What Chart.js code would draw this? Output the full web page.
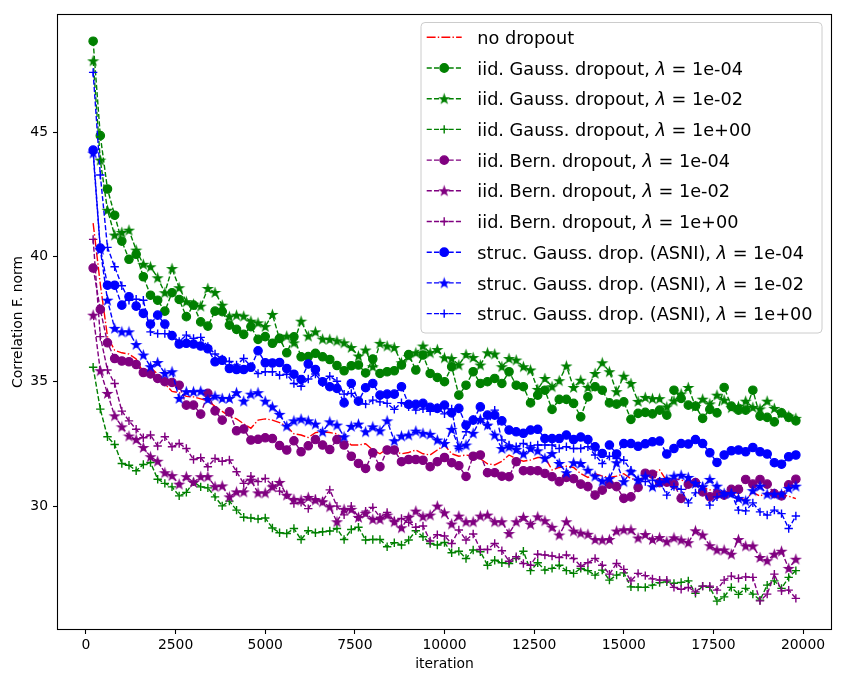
<!DOCTYPE html>
<html>
<head>
<meta charset="utf-8">
<script src="https://cdn.jsdelivr.net/npm/chart.js@4.4.0/dist/chart.umd.min.js"></script>
<style>
  html, body { margin: 0; padding: 0; background: #fff; }
  canvas { display: block; }
</style>
</head>
<body>
<canvas id="chart" width="845" height="682"></canvas>
<script>
// iteration at which each measurement was taken
const iterations = [
  200, 400, 600, 800, 1000, 1200, 1400, 1600, 1800, 2000,
  2200, 2400, 2600, 2800, 3000, 3200, 3400, 3600, 3800, 4000,
  4200, 4400, 4600, 4800, 5000, 5200, 5400, 5600, 5800, 6000,
  6200, 6400, 6600, 6800, 7000, 7200, 7400, 7600, 7800, 8000,
  8200, 8400, 8600, 8800, 9000, 9200, 9400, 9600, 9800, 10000,
  10200, 10400, 10600, 10800, 11000, 11200, 11400, 11600, 11800, 12000,
  12200, 12400, 12600, 12800, 13000, 13200, 13400, 13600, 13800, 14000,
  14200, 14400, 14600, 14800, 15000, 15200, 15400, 15600, 15800, 16000,
  16200, 16400, 16600, 16800, 17000, 17200, 17400, 17600, 17800, 18000,
  18200, 18400, 18600, 18800, 19000, 19200, 19400, 19600, 19800
];

const noDropout = [
  41.35, 38.9, 36.8, 36.25, 36.15, 36.1, 35.9, 35.35, 35.55, 35.3,
  34.9, 34.6, 34.55, 34.4, 34.38, 34.3, 34.22, 34.0, 33.8, 33.6,
  33.5, 33.3, 33.12, 33.45, 33.5, 33.45, 33.35, 33.2, 32.9, 32.85,
  32.75, 32.95, 32.98, 32.95, 32.9, 32.7, 32.45, 32.45, 32.5, 32.25,
  32.1, 32.3, 32.2, 32.1, 32.15, 32.25, 32.1, 32.05, 32.25, 32.45,
  32.1, 32.0, 32.05, 32.0, 31.9, 31.7, 31.65, 31.8, 32.05, 31.9,
  31.8, 31.85, 31.95, 31.95, 31.45, 31.55, 31.6, 31.55, 31.3, 31.15,
  31.3, 31.2, 31.15, 31.2, 31.3, 31.1, 31.05, 31.15, 31.25, 31.45,
  31.0, 31.1, 31.05, 30.95, 30.85, 30.75, 30.65, 30.65, 30.5, 30.55,
  30.35, 30.25, 30.55, 30.4, 30.55, 30.5, 30.45, 30.4, 30.3
];

const gaussL4 = [
  48.65, 44.86, 42.72, 41.67, 40.63, 39.9, 40.1, 39.2, 38.46, 38.26,
  37.82, 38.56, 38.29, 37.6, 38.06, 37.39, 37.22, 37.82, 37.8, 37.26,
  37.09, 36.89, 37.2, 36.69, 36.8, 36.53, 36.73, 36.15, 36.79, 35.99,
  36.0, 36.13, 35.99, 35.88, 35.64, 35.43, 35.63, 35.66, 35.34, 35.9,
  35.32, 35.39, 35.43, 35.66, 36.08, 35.46, 36.06, 35.32, 35.16, 34.99,
  35.59, 34.45, 34.85, 35.39, 34.92, 34.99, 35.12, 34.92, 35.39, 34.85,
  34.79, 34.14, 34.45, 34.65, 33.88, 34.28, 34.28, 34.12, 33.58, 34.38,
  34.79, 34.65, 34.14, 34.09, 34.18, 33.48, 33.72, 33.76, 33.7, 33.85,
  33.65, 34.65, 34.32, 34.05, 34.01, 33.52, 33.88, 33.74, 34.76, 34.01,
  33.85, 33.85, 34.65, 33.61, 33.56, 33.38, 33.74, 33.56, 33.42
];

const gaussL2 = [
  47.86, 43.88, 41.87, 40.87, 40.98, 41.07, 40.27, 39.7, 39.6, 39.16,
  38.56, 39.53, 38.76, 38.2, 38.1, 38.02, 38.73, 38.57, 38.06, 37.6,
  37.66, 37.62, 37.42, 37.35, 37.2, 37.69, 36.7, 36.82, 36.55, 37.42,
  36.82, 36.99, 36.7, 36.69, 36.63, 36.55, 36.36, 36.02, 36.26, 35.59,
  36.53, 36.42, 36.36, 35.75, 36.0, 36.15, 36.42, 36.15, 36.28, 35.95,
  35.92, 35.66, 36.08, 35.96, 35.66, 36.15, 36.1, 35.59, 35.92, 35.86,
  35.59, 35.46, 34.68, 35.12, 34.79, 35.03, 35.62, 34.76, 35.05, 34.76,
  35.32, 35.75, 35.39, 34.59, 35.21, 34.92, 34.2, 34.36, 34.31, 34.31,
  33.98, 34.22, 34.5, 34.76, 34.0, 34.29, 34.1, 34.45, 34.25, 33.95,
  34.0, 34.21, 33.96, 33.9, 34.21, 33.92, 33.72, 33.61, 33.52
];

const gaussL0 = [
  35.57, 33.89, 32.78, 32.47, 31.71, 31.64, 31.42, 31.67, 31.75, 31.08,
  30.91, 30.77, 30.41, 30.55, 30.97, 30.77, 30.73, 30.37, 30.01, 30.2,
  29.84, 29.55, 29.52, 29.48, 29.52, 29.12, 28.93, 28.9, 29.1, 28.66,
  29.01, 28.93, 28.97, 29.0, 29.1, 28.66, 29.06, 29.15, 28.64, 28.66,
  28.66, 28.37, 28.53, 28.44, 28.64, 29.01, 28.77, 28.5, 28.44, 28.54,
  28.13, 28.19, 27.9, 28.24, 28.17, 27.63, 27.83, 27.73, 27.7, 27.9,
  28.19, 27.41, 27.73, 27.43, 27.5, 27.63, 27.41, 27.3, 27.5, 27.41,
  27.23, 27.43, 27.03, 27.23, 27.32, 26.76, 26.75, 26.74, 26.83, 26.93,
  26.96, 26.9, 26.94, 27.0, 26.5, 26.79, 26.74, 26.19, 26.36, 26.74,
  26.46, 26.7, 26.47, 26.23, 26.83, 27.0, 26.7, 27.14, 27.41
];

const bernL4 = [
  39.55, 37.89, 36.55, 35.92, 35.82, 35.79, 35.68, 35.36, 35.3, 35.12,
  34.99, 34.96, 34.85, 34.05, 34.05, 33.69, 34.52, 33.82, 33.45, 33.78,
  33.02, 33.09, 32.65, 32.68, 32.74, 32.71, 32.43, 32.25, 32.62, 32.18,
  32.42, 32.67, 32.45, 32.27, 32.67, 32.45, 32.0, 31.71, 31.51, 32.14,
  31.58, 32.25, 32.25, 31.78, 31.87, 31.87, 31.84, 31.58, 31.78, 31.95,
  31.74, 31.62, 31.19, 32.0, 32.05, 31.34, 31.34, 31.2, 31.18, 31.78,
  31.42, 31.42, 31.42, 31.31, 31.18, 30.98, 31.15, 31.1, 30.88, 30.78,
  30.44, 30.64, 30.88, 30.78, 30.31, 30.37, 30.75, 31.32, 31.28, 30.94,
  30.96, 30.88, 30.31, 30.88, 30.94, 30.57, 30.37, 30.48, 30.44, 30.67,
  30.67, 31.07, 30.88, 31.07, 30.88, 30.5, 30.41, 30.85, 31.08
];

const bernL2 = [
  37.66, 35.43, 34.52, 33.62, 33.18, 32.81, 32.67, 32.35, 31.98, 31.8,
  31.34, 31.22, 30.88, 31.18, 30.95, 31.18, 31.18, 30.78, 30.81, 30.37,
  30.57, 30.57, 31.04, 30.53, 30.53, 30.77, 30.95, 30.44, 30.27, 30.24,
  30.35, 30.24, 30.17, 29.97, 29.37, 29.87, 29.87, 29.55, 29.71, 29.47,
  29.47, 29.64, 29.37, 29.13, 29.55, 29.8, 29.58, 29.64, 30.0, 29.73,
  29.28, 29.6, 29.37, 29.37, 29.6, 29.64, 29.37, 29.37, 28.9, 29.37,
  29.55, 29.27, 29.57, 29.41, 29.15, 28.84, 29.37, 29.0, 28.92, 28.87,
  28.66, 28.64, 28.66, 29.0, 29.05, 29.05, 28.72, 28.86, 28.66, 28.74,
  28.57, 28.73, 28.64, 28.53, 29.01, 28.84, 28.41, 28.24, 28.24, 28.07,
  28.66, 28.4, 28.4, 27.94, 27.81, 28.07, 28.19, 27.5, 27.87
];

const bernL0 = [
  40.7, 36.8, 35.46, 34.92, 33.81, 33.42, 33.08, 32.74, 32.85, 32.41,
  32.78, 32.38, 32.51, 32.31, 31.87, 31.94, 31.58, 31.91, 31.8, 31.85,
  31.38, 30.91, 31.2, 30.98, 31.11, 30.84, 30.6, 30.45, 30.1, 30.15,
  29.9, 30.3, 30.2, 30.65, 30.0, 29.65, 30.0, 29.55, 29.8, 29.95,
  29.55, 29.75, 29.4, 29.5, 29.35, 29.15, 29.2, 28.6, 28.85, 28.8,
  28.5, 29.04, 28.64, 28.88, 28.26, 28.26, 28.5, 28.21, 27.79, 27.97,
  27.7, 27.63, 28.07, 28.04, 28.0, 27.94, 28.04, 27.9, 27.59, 27.73,
  27.9, 27.63, 27.27, 27.7, 27.46, 27.0, 27.3, 27.21, 27.08, 27.03,
  27.03, 26.74, 26.66, 26.74, 26.56, 26.79, 26.79, 26.63, 27.03, 27.19,
  27.1, 27.16, 27.14, 26.2, 26.47, 27.27, 26.6, 26.63, 26.3
];

const asniL4 = [
  44.28, 40.35, 38.86, 38.86, 38.06, 38.4, 38.02, 37.73, 37.3, 37.66,
  37.3, 36.84, 36.5, 36.53, 36.5, 36.42, 36.31, 35.79, 35.85, 35.52,
  35.48, 35.48, 35.57, 36.23, 35.75, 35.74, 35.76, 35.52, 35.29, 35.08,
  35.7, 35.48, 34.99, 34.79, 34.72, 34.14, 34.92, 34.21, 34.75, 34.92,
  34.45, 34.49, 34.49, 34.79, 34.08, 34.08, 34.12, 33.96, 33.92, 34.05,
  33.74, 33.92, 33.25, 33.45, 33.98, 33.65, 33.65, 33.42, 33.05, 32.98,
  32.92, 33.05, 33.08, 32.71, 32.71, 32.71, 32.85, 32.67, 32.77, 32.67,
  32.38, 32.11, 32.45, 32.09, 32.51, 32.51, 32.4, 32.5, 32.58, 32.61,
  32.09, 32.31, 32.51, 32.49, 32.67, 32.51, 32.14, 31.75, 32.05, 32.22,
  32.25, 32.18, 32.35, 32.18, 32.09, 31.74, 31.68, 31.98, 32.05
];

const asniL2 = [
  44.16, 40.3, 38.26, 37.13, 36.99, 36.99, 36.48, 36.06, 35.59, 35.76,
  35.32, 35.39, 34.32, 34.59, 34.59, 34.61, 34.28, 34.41, 34.32, 34.32,
  34.55, 34.21, 34.49, 34.55, 34.21, 33.98, 33.68, 33.21, 33.42, 33.49,
  33.42, 33.29, 32.98, 33.38, 33.25, 32.78, 33.2, 33.29, 32.98, 33.18,
  33.02, 33.42, 32.62, 32.81, 32.85, 33.01, 32.92, 32.88, 32.65, 32.51,
  33.08, 32.38, 32.45, 32.92, 33.48, 33.25, 32.85, 32.31, 32.38, 32.27,
  32.09, 32.31, 32.22, 31.91, 32.11, 31.71, 31.34, 31.74, 31.71, 31.44,
  31.2, 31.0, 31.1, 31.74, 30.98, 31.38, 31.05, 31.2, 30.78, 30.94,
  31.07, 31.2, 31.24, 31.15, 30.91, 30.78, 31.07, 30.8, 30.51, 30.51,
  30.31, 30.21, 30.62, 30.8, 30.48, 30.48, 30.48, 30.71, 30.8
];

const asniL0 = [
  47.4, 43.28, 40.38, 39.6, 38.84, 38.26, 38.3, 38.26, 36.99, 36.92,
  36.92, 36.85, 36.6, 36.86, 36.73, 36.77, 36.4, 36.1, 35.9, 35.8,
  35.66, 35.92, 35.6, 35.32, 35.39, 35.39, 35.25, 35.29, 34.92, 34.81,
  35.1, 35.3, 34.95, 35.21, 35.01, 34.49, 34.52, 34.18, 34.09, 34.25,
  34.18, 34.12, 33.88, 34.15, 33.98, 33.85, 33.9, 33.8, 33.95, 33.7,
  33.9, 32.31, 32.98, 33.48, 33.45, 33.25, 33.85, 32.65, 32.45, 32.38,
  32.51, 32.41, 32.45, 32.45, 32.45, 32.31, 32.38, 32.31, 32.31, 32.38,
  32.05, 31.71, 32.0, 31.91, 31.84, 31.44, 31.04, 30.98, 31.04, 31.0,
  30.44, 30.78, 30.67, 30.13, 30.53, 30.78, 30.04, 30.37, 30.44, 30.51,
  29.84, 29.81, 30.13, 29.77, 29.64, 29.84, 29.7, 29.1, 29.6
];

const seriesLabels = [
  "no dropout",
  "iid. Gauss. dropout, λ = 1e-04",
  "iid. Gauss. dropout, λ = 1e-02",
  "iid. Gauss. dropout, λ = 1e+00",
  "iid. Bern. dropout, λ = 1e-04",
  "iid. Bern. dropout, λ = 1e-02",
  "iid. Bern. dropout, λ = 1e+00",
  "struc. Gauss. drop. (ASNI), λ = 1e-04",
  "struc. Gauss. drop. (ASNI), λ = 1e-02",
  "struc. Gauss. drop. (ASNI), λ = 1e+00"
];
const seriesValues = [noDropout, gaussL4, gaussL2, gaussL0, bernL4, bernL2, bernL0, asniL4, asniL2, asniL0];
const seriesColors = ["#ff0000", "#008000", "#008000", "#008000", "#800080", "#800080", "#800080", "#0000ff", "#0000ff", "#0000ff"];
const seriesMarkers = ["none", "circle", "star", "plus", "circle", "star", "plus", "circle", "star", "plus"];

const xTicks = [0, 2500, 5000, 7500, 10000, 12500, 15000, 17500, 20000];
const yTicks = [30, 35, 40, 45];

const FONT = "DejaVu Sans";
const DASHED = [5.1, 2.2];
const DASHDOT = [8.9, 2.2, 1.4, 2.2];

// filled five-pointed star like matplotlib's '*' marker
function makeStar(color) {
  const size = 13;
  const c = document.createElement("canvas");
  c.width = size;
  c.height = size;
  const g = c.getContext("2d");
  const ro = 4.3, ri = ro * 0.382;
  g.beginPath();
  for (let k = 0; k < 10; k++) {
    const r = k % 2 === 0 ? ro : ri;
    const a = -Math.PI / 2 + k * Math.PI / 5;
    g.lineTo(size / 2 + r * Math.cos(a), size / 2 + 0.4 + r * Math.sin(a));
  }
  g.closePath();
  g.fillStyle = color;
  g.fill();
  g.strokeStyle = color;
  g.lineWidth = 1.3;
  g.stroke();
  return c;
}

const starCache = {};
function pointStyleFor(marker, color) {
  if (marker === "circle") return "circle";
  if (marker === "plus") return "cross";
  if (marker === "star") {
    if (!starCache[color]) starCache[color] = makeStar(color);
    return starCache[color];
  }
  return false;
}

const datasets = seriesValues.map((vals, k) => {
  const marker = seriesMarkers[k];
  return {
    label: seriesLabels[k],
    data: vals.map((v, i) => ({ x: iterations[i], y: v })),
    borderColor: seriesColors[k],
    backgroundColor: seriesColors[k],
    borderWidth: 1.4,
    borderDash: k === 0 ? DASHDOT : DASHED,
    fill: false,
    tension: 0,
    pointStyle: pointStyleFor(marker, seriesColors[k]),
    pointRadius: marker === "none" ? 0 : 4.2,
    pointBorderWidth: marker === "plus" ? 1.4 : 1.2,
    pointBackgroundColor: seriesColors[k],
    pointBorderColor: seriesColors[k],
    order: -k
  };
});

const framePlugin = {
  id: "frame",
  afterDatasetsDraw(chart) {
    const a = chart.chartArea;
    const ctx = chart.ctx;
    ctx.save();
    ctx.strokeStyle = "#000";
    ctx.lineWidth = 1.1;
    ctx.strokeRect(a.left - 0.5, a.top - 0.5, a.right - a.left + 1, a.bottom - a.top + 1);
    ctx.restore();
  }
};

function roundRect(ctx, x, y, w, h, r) {
  ctx.beginPath();
  ctx.moveTo(x + r, y);
  ctx.lineTo(x + w - r, y);
  ctx.arcTo(x + w, y, x + w, y + r, r);
  ctx.lineTo(x + w, y + h - r);
  ctx.arcTo(x + w, y + h, x + w - r, y + h, r);
  ctx.lineTo(x + r, y + h);
  ctx.arcTo(x, y + h, x, y + h - r, r);
  ctx.lineTo(x, y + r);
  ctx.arcTo(x, y, x + r, y, r);
  ctx.closePath();
}

const legendPlugin = {
  id: "boxLegend",
  afterDraw(chart) {
    const ctx = chart.ctx;
    const fs = 17.7;
    ctx.save();
    roundRect(ctx, 421, 22.5, 401, 310.5, 4);
    ctx.fillStyle = "rgba(255,255,255,0.8)";
    ctx.fill();
    ctx.strokeStyle = "#cccccc";
    ctx.lineWidth = 1;
    ctx.stroke();

    chart.data.datasets.forEach((ds, k) => {
      const y = 37.3 + 30.7 * k;
      ctx.setLineDash(ds.borderDash);
      ctx.strokeStyle = ds.borderColor;
      ctx.lineWidth = ds.borderWidth;
      ctx.beginPath();
      ctx.moveTo(426.7, y);
      ctx.lineTo(461.7, y);
      ctx.stroke();
      ctx.setLineDash([]);
      if (ds.pointRadius > 0) {
        ctx.fillStyle = ds.pointBackgroundColor;
        ctx.strokeStyle = ds.pointBorderColor;
        Chart.helpers.drawPoint(ctx, {
          pointStyle: ds.pointStyle,
          radius: ds.pointRadius,
          borderWidth: ds.pointBorderWidth,
          rotation: 0
        }, 444.2, y);
      }
      ctx.fillStyle = "#000";
      ctx.textBaseline = "alphabetic";
      ctx.textAlign = "left";
      const parts = seriesLabels[k].split("λ");
      let x = 477.3;
      const base = y + 6.6;
      ctx.font = fs + "px '" + FONT + "'";
      ctx.fillText(parts[0], x, base);
      if (parts.length > 1) {
        x += ctx.measureText(parts[0]).width;
        ctx.font = "italic " + fs + "px '" + FONT + "'";
        ctx.fillText("λ", x, base);
        x += ctx.measureText("λ").width;
        ctx.font = fs + "px '" + FONT + "'";
        ctx.fillText(parts[1], x, base);
      }
    });
    ctx.restore();
  }
};

const tickFont = { family: FONT, size: 13.9 };

new Chart(document.getElementById("chart").getContext("2d"), {
  type: "line",
  data: { datasets },
  options: {
    responsive: false,
    animation: false,
    devicePixelRatio: 1,
    layout: { padding: { left: 0, right: 14, top: 15, bottom: 0 } },
    plugins: {
      legend: { display: false },
      tooltip: { enabled: false }
    },
    scales: {
      x: {
        type: "linear",
        min: -780,
        max: 20780,
        afterBuildTicks: s => { s.ticks = xTicks.map(v => ({ value: v })); },
        afterFit: s => { s.height = 53; },
        grid: { display: true, drawOnChartArea: false, drawTicks: true, tickLength: 5, tickColor: "#000", tickWidth: 1.1 },
        border: { display: false },
        ticks: { color: "#000", font: tickFont, padding: 3, maxRotation: 0, autoSkip: false, callback: v => String(v) },
        title: { display: true, text: "iteration", color: "#000", font: tickFont, padding: { top: 0, bottom: 9.7 } }
      },
      y: {
        type: "linear",
        min: 25.07,
        max: 49.70,
        afterBuildTicks: s => { s.ticks = yTicks.map(v => ({ value: v })); },
        afterFit: s => { s.width = 58; },
        grid: { display: true, drawOnChartArea: false, drawTicks: true, tickLength: 5, tickColor: "#000", tickWidth: 1.1 },
        border: { display: false },
        ticks: { color: "#000", font: tickFont, padding: 5, autoSkip: false, callback: v => String(v) },
        title: { display: true, text: "Correlation F. norm", color: "#000", font: tickFont, padding: { top: 9.7, bottom: 0 } }
      }
    }
  },
  plugins: [framePlugin, legendPlugin]
});
</script>
</body>
</html>
